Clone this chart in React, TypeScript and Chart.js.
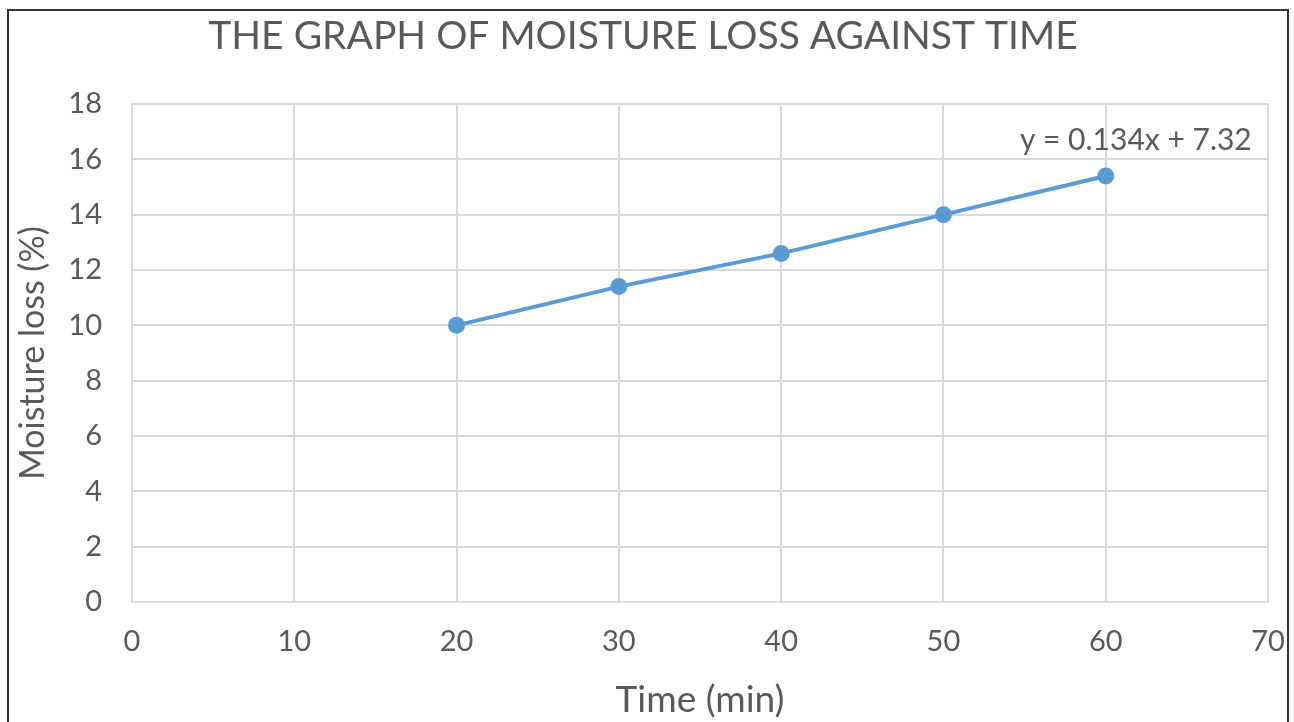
import React, { useEffect, useRef } from "react";
import { Chart, registerables } from "chart.js";

Chart.register(...registerables);

const times = [20, 30, 40, 50, 60];
const moistureLoss = [10, 11.4, 12.6, 14, 15.4];
const titleText = "THE GRAPH OF MOISTURE LOSS AGAINST TIME";
const equationText = "y = 0.134x + 7.32";
const xTitle = "Time (min)";
const yTitle = "Moisture loss (%)";

const FONT = "Lato, 'Open Sans', sans-serif";
const TEXT = "#595959";
const GRID = "#d9d9d9";
const LINE = "#5b9bd5";

const overlayPlugin = {
  id: "overlayText",
  afterDraw(chart: any) {
    const ctx = chart.ctx;
    const xs = chart.scales.x;
    const ys = chart.scales.y;
    ctx.save();
    ctx.fillStyle = TEXT;
    ctx.font = `39px ${FONT}`;
    ctx.textAlign = "center";
    ctx.textBaseline = "middle";
    ctx.fillText(titleText, 643, 36);
    ctx.font = `30px ${FONT}`;
    ctx.textAlign = "right";
    ctx.fillText(equationText, xs.getPixelForValue(69), ys.getPixelForValue(16.7));
    ctx.restore();
  },
};

export default function App() {
  const ref = useRef<HTMLCanvasElement>(null);
  useEffect(() => {
    if (!ref.current) return;
    const chart = new Chart(ref.current, {
      type: "scatter",
      data: {
        datasets: [
          {
            data: times.map((t, i) => ({ x: t, y: moistureLoss[i] })),
            showLine: true,
            borderColor: LINE,
            backgroundColor: LINE,
            borderWidth: 4,
            pointRadius: 8.5,
            pointBorderWidth: 0,
          },
        ],
      },
      options: {
        animation: false,
        responsive: false,
        layout: { padding: { top: 104, right: 26, left: 0, bottom: 0 } },
        plugins: { legend: { display: false }, tooltip: { enabled: false }, title: { display: false } },
        scales: {
          x: {
            type: "linear",
            min: 0,
            max: 70,
            ticks: { stepSize: 10, color: TEXT, font: { family: FONT, size: 29 }, padding: 22 },
            grid: { color: GRID, lineWidth: 2, drawTicks: false },
            border: { color: GRID, width: 2 },
            title: { display: true, text: xTitle, color: TEXT, font: { family: FONT, size: 37 }, padding: { top: 0, bottom: 0 } },
            afterFit: (s: any) => { s.height = 120; s.paddingLeft = 0; s.paddingRight = 0; },
          },
          y: {
            min: 0,
            max: 18,
            ticks: { stepSize: 2, color: TEXT, font: { family: FONT, size: 29 }, padding: 30 },
            grid: { color: GRID, lineWidth: 2, drawTicks: false },
            border: { color: GRID, width: 2 },
            title: { display: true, text: yTitle, color: TEXT, font: { family: FONT, size: 34 }, padding: { top: 13, bottom: 0 } },
            afterFit: (s: any) => { s.width = 132; s.paddingTop = 0; s.paddingBottom = 0; },
          },
        },
      },
      plugins: [overlayPlugin],
    });
    return () => chart.destroy();
  }, []);
  return (
    <div style={{ position: "fixed", left: 0, top: 0, width: 1294, height: 722, background: "#fff", overflow: "hidden" }}>
      <canvas ref={ref} width={1294} height={722} style={{ position: "absolute", left: 0, top: 0 }} />
      <div style={{ position: "absolute", left: 7, top: 9, width: 1282, height: 800, border: "2px solid #333", boxSizing: "border-box", pointerEvents: "none" }} />
    </div>
  );
}
